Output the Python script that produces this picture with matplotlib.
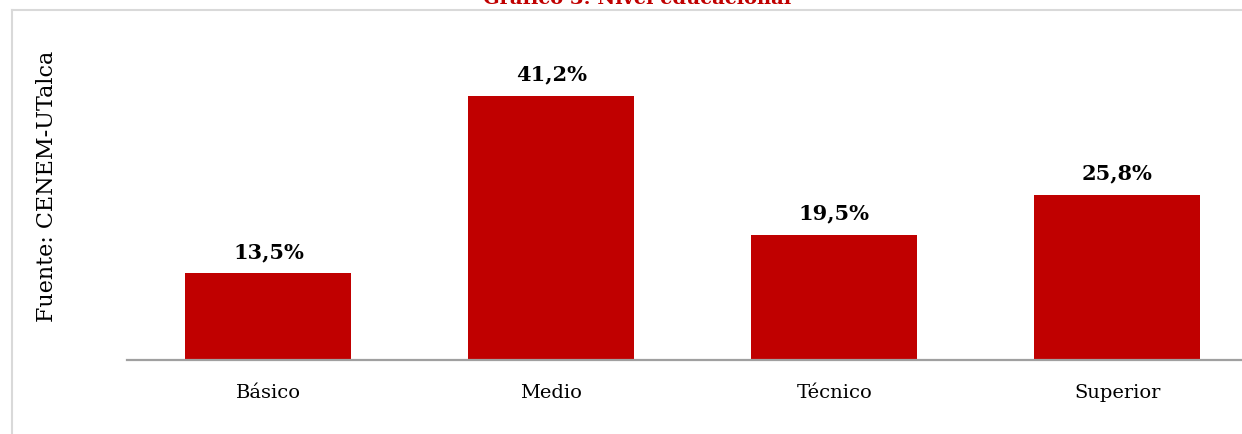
import matplotlib
matplotlib.use("Agg")
import matplotlib.pyplot as plt
from matplotlib.lines import Line2D

categories = ["Básico", "Medio", "Técnico", "Superior"]
values = [13.5, 41.2, 19.5, 25.8]
labels = ["13,5%", "41,2%", "19,5%", "25,8%"]

plt.rcParams['font.family'] = ['DejaVu Serif']

W, H = 1242, 434
fig = plt.figure(figsize=(W / 100, H / 100), dpi=100)

ax = fig.add_axes([127 / W, (H - 360) / H, 1131.5 / W, 288.5 / H])
ax.bar(range(len(categories)), values, width=0.587, color="#C00000", zorder=2)
ax.set_xlim(-0.5, len(categories) - 0.5)
ax.set_ylim(0, 45)
for i, (v, t) in enumerate(zip(values, labels)):
    ax.annotate(t, (i, v), xytext=(0, 8), textcoords="offset points",
                ha="center", va="bottom", fontsize=15, fontweight="bold")
ax.set_xticks(range(len(categories)))
ax.set_xticklabels(categories, fontsize=14)
ax.tick_params(axis="x", length=0, pad=17)
ax.set_yticks([])
for s in ["top", "right", "left"]:
    ax.spines[s].set_visible(False)
ax.spines["bottom"].set_color("#A0A0A0")
ax.spines["bottom"].set_linewidth(1.6)
ax.spines["bottom"].set_zorder(3)

# outer border of chart area
fig.add_artist(Line2D([12 / W, 1.0], [1 - 9.5 / H, 1 - 9.5 / H], color="#D9D9D9", lw=1.5))
fig.add_artist(Line2D([12 / W, 12 / W], [1 - 9.5 / H, 0.0], color="#D9D9D9", lw=1.5))

fig.text(637 / W, 1 - 4.5 / H, "Gráfico 3: Nivel educacional", color="#C00000",
         fontsize=14, fontweight="bold", ha="center", va="baseline")
fig.text(47 / W, 1 - 186 / H, "Fuente: CENEM-UTalca", rotation=90,
         fontsize=16, ha="center", va="center")

fig.savefig("out.png", dpi=100)
